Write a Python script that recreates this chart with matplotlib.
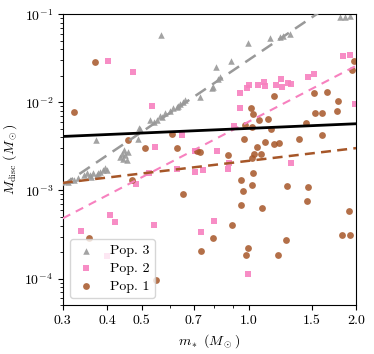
import numpy as np
import matplotlib
matplotlib.use("Agg")
import matplotlib.pyplot as plt
from matplotlib.ticker import FixedLocator, NullFormatter, FixedFormatter

plt.rcParams['font.family'] = 'serif'
plt.rcParams['font.serif'] = ['cmr10', 'DejaVu Serif']
plt.rcParams['mathtext.fontset'] = 'cm'
plt.rcParams['axes.formatter.use_mathtext'] = True
plt.rcParams['font.size'] = 10

# Pop. 3 (gray triangles)
pop3_m = [0.568, 0.373, 0.310, 0.314, 0.322, 0.331, 0.344, 0.350, 0.357, 0.364, 0.374,
          0.381, 0.389, 0.361, 0.376, 0.394, 0.399, 0.434, 0.439, 0.443, 0.448, 0.453,
          0.458, 0.445, 0.4875, 0.494, 0.490, 0.527, 0.550, 0.562, 0.581, 0.54, 0.57,
          0.60, 0.63, 0.612, 0.626, 0.640, 0.654, 0.661, 0.728, 0.786, 0.794, 0.820,
          0.829, 0.808, 0.890, 0.996, 1.146, 1.223, 1.247, 1.304, 1.803, 1.862, 1.923]
pop3_M = [0.0577, 0.0037, 0.00126, 0.00133, 0.00133, 0.00137, 0.00148, 0.00156, 0.00148,
          0.00156, 0.00148, 0.0016, 0.00169, 0.00141, 0.00156, 0.00178, 0.00169, 0.00239,
          0.00261, 0.00229, 0.0025, 0.00219, 0.00272, 0.00285, 0.0038, 0.00494, 0.0051,
          0.00625, 0.00625, 0.00693, 0.0075, 0.0060, 0.0068, 0.0080, 0.0090, 0.00855,
          0.00885, 0.00948, 0.01007, 0.01054, 0.01148, 0.0147, 0.0149, 0.0186, 0.0194,
          0.0252, 0.0292, 0.0468, 0.053, 0.0552, 0.0562, 0.0593, 0.0925, 0.0937, 0.0949]

# Pop. 2 (pink squares)
pop2_m = [0.402, 0.473, 0.533, 0.544, 0.650, 0.524, 0.626, 0.483, 0.407, 0.420, 0.542,
          0.337, 0.400, 0.705, 0.813, 0.879, 0.871, 0.705, 0.741, 0.908, 0.944, 0.944,
          0.988, 1.000, 1.063, 1.099, 1.110, 1.188, 1.227, 1.239, 1.290, 1.309, 1.469,
          1.523, 1.842, 1.924, 1.987, 1.310, 0.800, 0.732, 0.996]
pop2_M = [0.0292, 0.0223, 0.00918, 0.0031, 0.0043, 0.00157, 0.00173, 0.00117, 5.29e-4,
          4.44e-4, 4.11e-4, 3.51e-4, 1.81e-4, 0.00277, 0.00277, 0.00205, 0.00177, 0.00162,
          0.00172, 0.00538, 0.01265, 0.00866, 0.0144, 0.0156, 0.0156, 0.0170, 0.0152,
          0.0158, 0.0184, 0.0150, 0.0164, 0.0160, 0.0196, 0.0212, 0.0333, 0.0342, 0.00957,
          0.00204, 4.56e-4, 3.36e-4, 1.14e-4]

# Pop. 1 (brown circles)
pop1_m = [0.369, 0.322, 0.458, 0.510, 0.626, 0.607, 0.468, 0.651, 0.355, 0.548, 0.714,
          0.728, 0.871, 0.952, 1.028, 0.968, 1.055, 1.110, 1.180, 1.217, 1.385, 1.608,
          1.014, 1.026, 1.065, 1.134, 1.176, 0.975, 1.017, 1.151, 1.447, 1.527, 1.654,
          1.534, 1.602, 1.766, 1.784, 1.946, 1.975, 1.033, 1.079, 1.023, 1.018, 0.964,
          0.950, 1.086, 1.280, 1.463, 1.453, 1.916, 0.894, 0.794, 0.733, 0.991, 0.979,
          1.271, 1.209, 1.831, 1.924]
pop1_M = [0.0283, 0.00776, 0.00377, 0.0030, 0.00303, 0.0044, 0.00133, 9.17e-4, 2.87e-4,
          9.66e-5, 0.00277, 0.00272, 0.0025, 0.00132, 0.00158, 0.00387, 0.00308, 0.00354,
          0.00333, 0.00348, 0.0038, 0.00422, 0.00861, 0.00744, 0.00625, 0.00653, 0.0118,
          0.00558, 0.00524, 0.00502, 0.00585, 0.01276, 0.0131, 0.0075, 0.0075, 0.00791,
          0.01035, 0.02355, 0.02944, 0.0026, 0.00261, 0.00234, 0.00114, 9.75e-4, 6.93e-4,
          6.3e-4, 0.00112, 0.00109, 7.64e-4, 5.82e-4, 4.11e-4, 2.88e-4, 2.04e-4, 2.25e-4,
          1.87e-4, 2.75e-4, 1.87e-4, 3.16e-4, 3.12e-4]

# power-law fits: M = norm * m**slope
fit_all = (5.06e-3, 0.175)
fit_pop1 = (2.17e-3, 0.478)
fit_pop2 = (6.05e-3, 2.1)
fit_pop3 = (0.0304, 2.72)

xticks = [0.3, 0.4, 0.5, 0.7, 1.0, 1.5, 2.0]
xtick_labels = ['0.3', '0.4', '0.5', '0.7', '1.0', '1.5', '2.0']
xminor = [0.6, 0.8, 0.9]

c_gray = '#999999'
c_pink = '#f781bf'
c_brown = '#a65628'

fig = plt.figure(figsize=(3.74, 3.54), dpi=100)
ax = fig.add_axes([0.168, 0.138, 0.784, 0.822])

ax.scatter(pop3_m, pop3_M, marker='^', s=22, color=c_gray, alpha=0.9, lw=0, label='Pop. 3', zorder=2)
ax.scatter(pop2_m, pop2_M, marker='s', s=20, color=c_pink, alpha=0.9, lw=0, label='Pop. 2', zorder=2)
ax.scatter(pop1_m, pop1_M, marker='o', s=24, color=c_brown, alpha=0.85, lw=0, label='Pop. 1', zorder=2)

mm = np.logspace(np.log10(0.3), np.log10(2.0), 200)
ax.plot(mm, fit_pop3[0] * mm ** fit_pop3[1], color=c_gray, lw=1.8, dashes=(5, 3), zorder=3)
ax.plot(mm, fit_pop2[0] * mm ** fit_pop2[1], color=c_pink, lw=1.5, dashes=(4, 3), zorder=3)
ax.plot(mm, fit_pop1[0] * mm ** fit_pop1[1], color=c_brown, lw=1.8, dashes=(4, 2.5), zorder=3)
ax.plot(mm, fit_all[0] * mm ** fit_all[1], color='black', lw=2.0, zorder=4)

ax.set_xscale('log')
ax.set_yscale('log')
ax.set_xlim(0.3, 2.0)
ax.set_ylim(5e-5, 0.1)

ax.xaxis.set_major_locator(FixedLocator(xticks))
ax.xaxis.set_major_formatter(FixedFormatter(xtick_labels))
ax.xaxis.set_minor_locator(FixedLocator(xminor))
ax.xaxis.set_minor_formatter(NullFormatter())

ax.tick_params(which='major', length=3.5, width=0.8)
ax.tick_params(which='minor', length=2, width=0.6)

ax.set_xlabel(r'$m_*\ (M_\odot)$')
ax.set_ylabel(r'$M_{\rm disc}\ (M_\odot)$')

leg = ax.legend(loc='lower left', handlelength=1.5, handletextpad=1.0,
                borderpad=0.4, labelspacing=0.35)

fig.savefig('out.png', dpi=100)
